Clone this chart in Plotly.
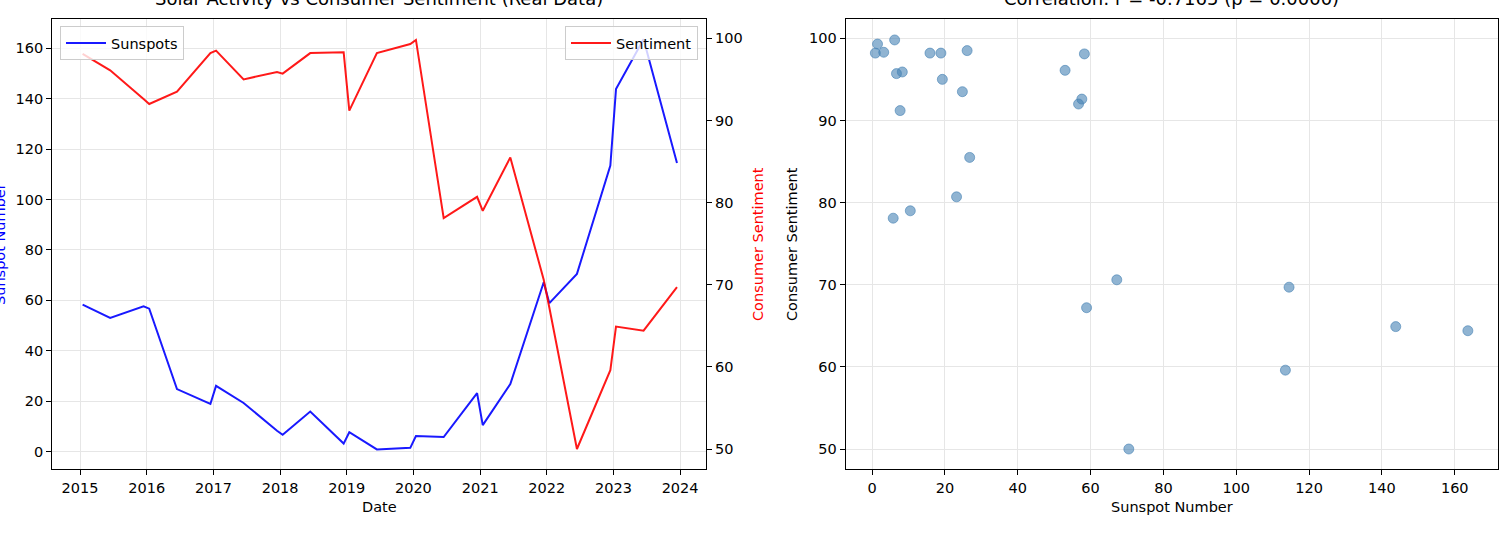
import plotly.graph_objects as go

dates = ["2015-01-15", "2015-06-15", "2015-12-15",
         "2016-01-15", "2016-06-15", "2016-12-15",
         "2017-01-15", "2017-06-15", "2017-12-15",
         "2018-01-15", "2018-06-15", "2018-12-15",
         "2019-01-15", "2019-06-15", "2019-12-15",
         "2020-01-15", "2020-06-15", "2020-12-15",
         "2021-01-15", "2021-06-15", "2021-12-15",
         "2022-01-15", "2022-06-15", "2022-12-15",
         "2023-01-15", "2023-06-15", "2023-12-15"]
sunspots = [58.3, 53.0, 57.6, 56.7, 24.8, 18.9, 26.1, 19.3, 8.3, 6.7, 15.9, 3.2,
            7.7, 0.9, 1.5, 6.2, 5.8, 23.2, 10.5, 26.8, 67.2, 58.9, 70.5, 113.5,
            143.8, 163.6, 114.5]
sentiment = [98.1, 96.1, 92.6, 92.0, 93.5, 98.2, 98.5, 95.0, 95.9, 95.7, 98.2, 98.3,
             91.2, 98.2, 99.3, 99.8, 78.1, 80.7, 79.0, 85.5, 70.6, 67.2, 50.0, 59.6,
             64.9, 64.4, 69.7]
year_ticks = ["2015", "2016", "2017", "2018", "2019", "2020", "2021", "2022", "2023", "2024"]

W, H = 1500, 533
FONT = "DejaVu Sans"
GRID = "#e6e6e6"
FS = 14.5

def px_x(p):
    return p / W

def px_y(p):
    return 1 - p / H

fig = go.Figure()
fig.add_trace(go.Scatter(x=dates, y=sunspots, mode="lines", name="Sunspots",
                         line=dict(color="rgba(0,0,255,0.9)", width=2),
                         xaxis="x", yaxis="y", legend="legend"))
fig.add_trace(go.Scatter(x=dates, y=sentiment, mode="lines", name="Sentiment",
                         line=dict(color="rgba(255,0,0,0.9)", width=2),
                         xaxis="x", yaxis="y2", legend="legend2"))
fig.add_trace(go.Scatter(x=sunspots, y=sentiment, mode="markers", name="scatter",
                         marker=dict(color="rgba(70,130,180,0.6)", size=10,
                                     line=dict(color="rgba(70,130,180,0.6)", width=1)),
                         xaxis="x2", yaxis="y3", showlegend=False))

ydom = [px_y(469.3), px_y(19)]
common = dict(showline=True, linecolor="black", linewidth=1.2, mirror=True,
              ticks="outside", ticklen=5, tickcolor="black", tickwidth=1,
              tickfont=dict(family=FONT, size=FS, color="black"),
              gridcolor=GRID, gridwidth=1, zeroline=False)

fig.update_layout(
    width=W, height=H,
    margin=dict(l=0, r=0, t=0, b=0),
    paper_bgcolor="white", plot_bgcolor="white",
    font=dict(family=FONT, size=FS, color="black"),
    xaxis=dict(domain=[px_x(52.3), px_x(706)], type="date",
               range=["2014-08-02", "2024-05-22"],
               tickvals=[y + "-01-01" for y in year_ticks], ticktext=year_ticks,
               anchor="y", showgrid=True, **common),
    yaxis=dict(domain=ydom, range=[-7.0, 171.6], tickvals=list(range(0, 161, 20)),
               anchor="x", showgrid=True, **common),
    yaxis2=dict(overlaying="y", side="right", anchor="x", range=[47.53, 102.35],
                tickvals=[50, 60, 70, 80, 90, 100], showgrid=False,
                showline=True, linecolor="black", linewidth=1.2,
                ticks="outside", ticklen=5, tickcolor="black",
                tickfont=dict(family=FONT, size=FS, color="black"), zeroline=False),
    xaxis2=dict(domain=[px_x(845.7), px_x(1497.5)], range=[-7.24, 171.74],
                tickvals=list(range(0, 161, 20)), anchor="y3", showgrid=True, **common),
    yaxis3=dict(domain=ydom, range=[47.53, 102.35], tickvals=[50, 60, 70, 80, 90, 100],
                anchor="x2", showgrid=True, **common),
    legend=dict(x=px_x(60), y=px_y(26), xanchor="left", yanchor="top",
                bgcolor="rgba(255,255,255,0.8)", bordercolor="#cccccc", borderwidth=1,
                font=dict(family=FONT, size=FS, color="black"), itemwidth=40),
    legend2=dict(x=px_x(698), y=px_y(26), xanchor="right", yanchor="top",
                 bgcolor="rgba(255,255,255,0.8)", bordercolor="#cccccc", borderwidth=1,
                 font=dict(family=FONT, size=FS, color="black"), itemwidth=40),
)

ann = [
    dict(text="Solar Activity vs Consumer Sentiment (Real Data)", x=px_x(379), y=px_y(11),
         xanchor="center", yanchor="bottom", font=dict(size=18)),
    dict(text="Correlation: r = -0.7165 (p = 0.0000)", x=px_x(1171.5), y=px_y(11),
         xanchor="center", yanchor="bottom", font=dict(size=18)),
    dict(text="Date", x=px_x(379), y=px_y(507), xanchor="center", yanchor="middle",
         font=dict(size=FS)),
    dict(text="Sunspot Number", x=px_x(1171.5), y=px_y(507), xanchor="center",
         yanchor="middle", font=dict(size=FS)),
    dict(text="Sunspot Number", x=px_x(0), y=px_y(244), xanchor="center",
         yanchor="middle", textangle=-90, font=dict(size=FS, color="blue")),
    dict(text="Consumer Sentiment", x=px_x(758), y=px_y(244), xanchor="center",
         yanchor="middle", textangle=-90, font=dict(size=FS, color="red")),
    dict(text="Consumer Sentiment", x=px_x(792), y=px_y(244), xanchor="center",
         yanchor="middle", textangle=-90, font=dict(size=FS, color="black")),
]
for a in ann:
    a.update(xref="paper", yref="paper", showarrow=False)
    a["font"] = dict(family=FONT, **a["font"])
fig.update_layout(annotations=ann)

fig.write_html("out.html", config={"displayModeBar": False},
               post_script="document.body.style.margin='0';document.body.style.overflow='hidden';")
